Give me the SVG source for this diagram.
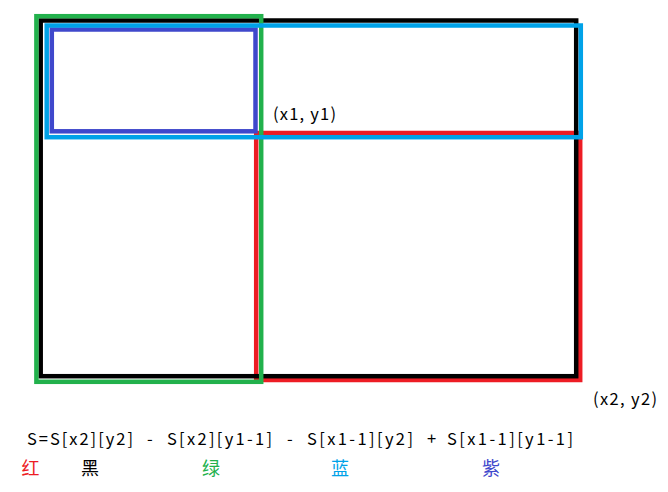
<svg xmlns="http://www.w3.org/2000/svg" width="668" height="492" viewBox="0 0 668 492">
<style>
.r{fill:none;stroke-width:4.5}
.t{font-family:"Noto Sans CJK SC","Noto Sans",sans-serif;font-size:16.5px;fill:#000}
.c{font-family:"Noto Sans CJK SC",sans-serif;font-size:18px}
</style>
<rect width="668" height="492" fill="#fff"/>
<g id="red"><rect class="r" x="256.2" y="133" width="324" height="247" stroke="#ED1C24"/></g>
<g id="black"><rect class="r" x="40.7" y="20.5" width="535.5" height="355.7" stroke="#000"/></g>
<g id="green"><rect class="r" x="36.4" y="16.2" width="224.8" height="365.6" stroke="#22B14C"/></g>
<g id="purple"><rect class="r" x="51.8" y="29.5" width="203.7" height="101.8" stroke="#3F48CC"/></g>
<g id="blue"><rect class="r" x="46.7" y="25.5" width="534.1" height="111.7" stroke="#00A2E8"/></g>
<g id="connectors"/>
<g id="labels">
<text class="t" x="273" y="119.5" textLength="63" lengthAdjust="spacing">(x1, y1)</text>
<text class="t" x="593" y="404.5" textLength="64" lengthAdjust="spacing">(x2, y2)</text>
<text class="t" x="27" y="445" textLength="106" lengthAdjust="spacing">S=S[x2][y2]</text>
<text class="t" x="147" y="445">-</text>
<text class="t" x="167" y="445" textLength="105" lengthAdjust="spacing">S[x2][y1-1]</text>
<text class="t" x="287" y="445">-</text>
<text class="t" x="307" y="445" textLength="106" lengthAdjust="spacing">S[x1-1][y2]</text>
<text class="t" x="427" y="445">+</text>
<text class="t" x="447" y="445" textLength="126" lengthAdjust="spacing">S[x1-1][y1-1]</text>
<text class="c" x="21.5" y="475" fill="#ED1C24">红</text>
<text class="c" x="81" y="475" fill="#000">黑</text>
<text class="c" x="202" y="475" fill="#22B14C">绿</text>
<text class="c" x="331" y="475" fill="#00A2E8">蓝</text>
<text class="c" x="482" y="475" fill="#3F48CC">紫</text>
</g>
</svg>
